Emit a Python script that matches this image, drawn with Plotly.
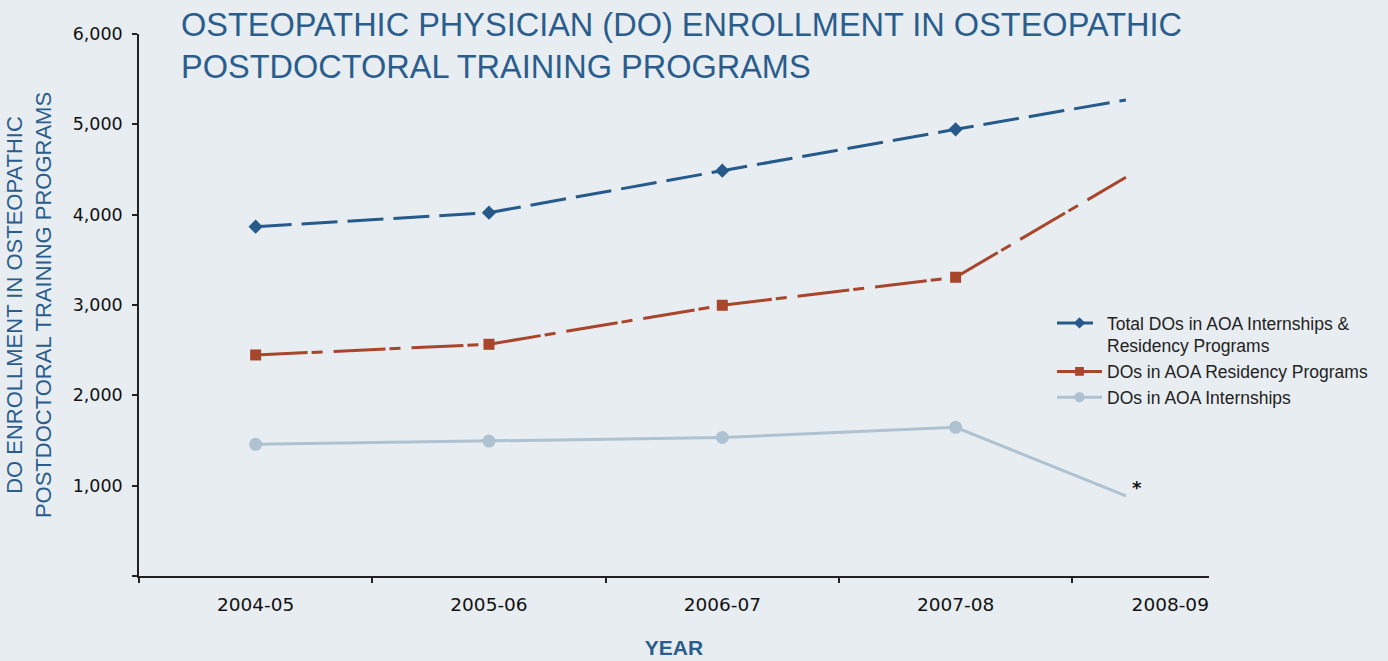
import plotly.graph_objects as go

# ---- data ----
years = ["2004-05", "2005-06", "2006-07", "2007-08", "2008-09"]
x_points = [0, 1, 2, 3, 3.73]          # where each year's value is plotted
x_label_pos = [0, 1, 2, 3, 3.92]       # where each year label sits
total_dos = [3867, 4022, 4487, 4945, 5270]
residency_dos = [2447, 2565, 2997, 3307, 4414]
internship_dos = [1458, 1494, 1533, 1646, 886]
y_ticks = [0, 1000, 2000, 3000, 4000, 5000, 6000]
y_ticktext = ["", "1,000", "2,000", "3,000", "4,000", "5,000", "6,000"]

BLUE = "#255a8a"
ORANGE = "#a8452b"
GREY = "#afc2d1"
TITLE_BLUE = "#2a5d8d"
BG = "#e8edf1"

fig = go.Figure()

def sizes(s):
    return [s] * (len(years) - 1) + [0]

fig.add_trace(go.Scatter(
    x=x_points, y=total_dos, mode="lines+markers",
    name="Total DOs in AOA Internships &<br>Residency Programs",
    line=dict(color=BLUE, width=3, dash="36px,10px"),
    marker=dict(symbol="diamond", size=sizes(11), color=BLUE, opacity=1,
                line=dict(width=0)),
))
fig.add_trace(go.Scatter(
    x=x_points, y=residency_dos, mode="lines+markers",
    name="DOs in AOA Residency Programs",
    line=dict(color=ORANGE, width=3, dash="52px,4px,11px,11px"),
    marker=dict(symbol="square", size=sizes(11), color=ORANGE, opacity=1,
                line=dict(width=0)),
))
fig.add_trace(go.Scatter(
    x=x_points, y=internship_dos, mode="lines+markers",
    name="DOs in AOA Internships",
    line=dict(color=GREY, width=3),
    marker=dict(symbol="circle", size=sizes(13), color=GREY, opacity=1,
                line=dict(width=0)),
))

fig.add_annotation(
    x=x_points[-1], y=internship_dos[-1], text="<b>*</b>", showarrow=False,
    xshift=11, yshift=8, font=dict(family="DejaVu Sans", size=18, color="#111"),
)

fig.update_layout(
    width=1388, height=661,
    paper_bgcolor=BG, plot_bgcolor=BG,
    margin=dict(l=139, r=179, t=34, b=85, autoexpand=False),
    title=dict(
        text="OSTEOPATHIC PHYSICIAN (DO) ENROLLMENT IN OSTEOPATHIC<br>POSTDOCTORAL TRAINING PROGRAMS",
        x=181 / 1388, xanchor="left", xref="container",
        y=1 - 36 / 661, yanchor="top", yref="container",
        font=dict(family="Liberation Sans", size=32.5, color=TITLE_BLUE),
    ),
    showlegend=True,
    legend=dict(
        x=(1052 - 139) / 1070, xanchor="left",
        y=(576 - 305) / 542, yanchor="top",
        bgcolor="rgba(0,0,0,0)",
        font=dict(family="Liberation Sans", size=17.5, color="#222"),
        valign="top", itemwidth=45, tracegroupgap=0,
    ),
    xaxis=dict(
        range=[-0.5, 4.086], showgrid=False, zeroline=False, automargin=False,
        showline=True, linecolor="#222", linewidth=1.5,
        tickmode="array", tickvals=x_label_pos, ticktext=years, ticks="",
        ticklabelstandoff=11,
        tickfont=dict(family="DejaVu Sans", size=18.5, color="#111"),
        minor=dict(tickmode="array", tickvals=[i - 0.5 for i in range(len(years))],
                   ticks="outside", ticklen=5, tickcolor="#222", tickwidth=1.5),
        title=dict(text="<b>YEAR</b>", standoff=26,
                   font=dict(family="Liberation Sans", size=21, color=TITLE_BLUE)),
    ),
    yaxis=dict(
        range=[0, 6000], showgrid=False, zeroline=False, automargin=False,
        showline=True, linecolor="#222", linewidth=1.5,
        tickmode="array", tickvals=y_ticks, ticktext=y_ticktext,
        ticks="outside", ticklen=5, tickcolor="#222", tickwidth=1.5,
        ticklabelstandoff=6,
        tickfont=dict(family="DejaVu Sans", size=17.5, color="#111"),
        title=dict(text="DO ENROLLMENT IN OSTEOPATHIC<br>POSTDOCTORAL TRAINING PROGRAMS",
                   standoff=15,
                   font=dict(family="Liberation Sans", size=22, color=TITLE_BLUE)),
    ),
)

fig.write_html(
    "out.html",
    config={"displayModeBar": False},
    post_script="document.body.style.margin='0';document.body.style.overflow='hidden';",
)
